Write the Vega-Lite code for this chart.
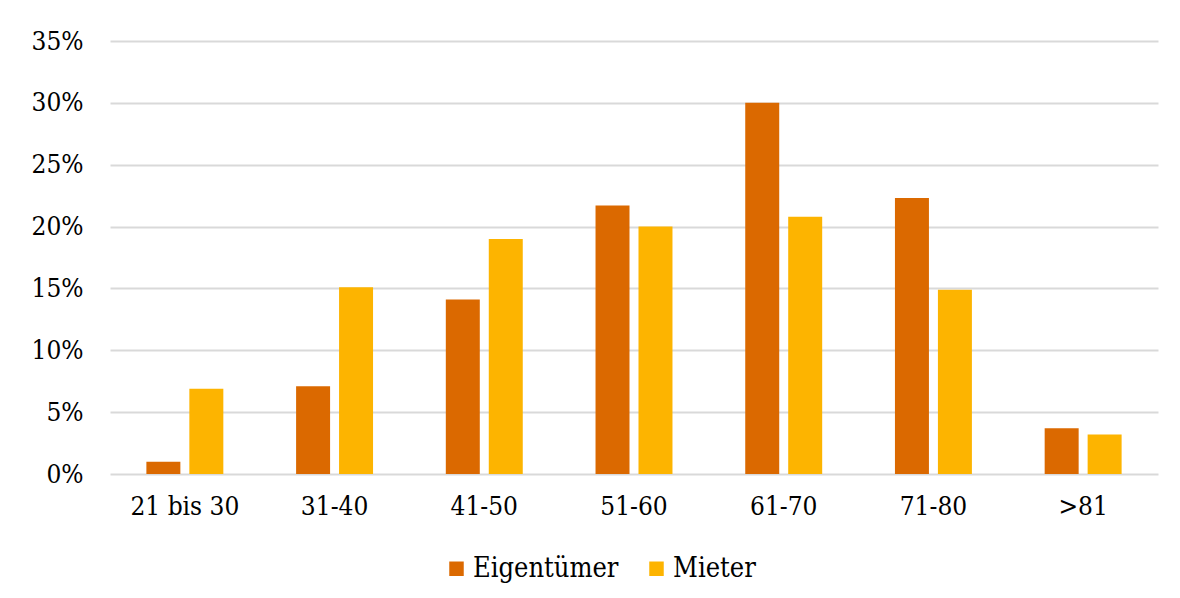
{
  "$schema": "https://vega.github.io/schema/vega-lite/v6.json",
  "autosize": {"type": "none"},
  "width": 1048,
  "height": 433,
  "padding": {"left": 110, "top": 41, "right": 22, "bottom": 124},
  "background": "#ffffff",
  "config": {
    "view": {"stroke": null},
    "font": "DejaVu Serif Condensed, Liberation Serif"
  },
  "data": {
    "values": [
      {"Alter": "21 bis 30", "Gruppe": "Eigentümer", "Anteil": 0.010},
      {"Alter": "21 bis 30", "Gruppe": "Mieter", "Anteil": 0.069},
      {"Alter": "31-40", "Gruppe": "Eigentümer", "Anteil": 0.071},
      {"Alter": "31-40", "Gruppe": "Mieter", "Anteil": 0.151},
      {"Alter": "41-50", "Gruppe": "Eigentümer", "Anteil": 0.141},
      {"Alter": "41-50", "Gruppe": "Mieter", "Anteil": 0.190},
      {"Alter": "51-60", "Gruppe": "Eigentümer", "Anteil": 0.217},
      {"Alter": "51-60", "Gruppe": "Mieter", "Anteil": 0.200},
      {"Alter": "61-70", "Gruppe": "Eigentümer", "Anteil": 0.300},
      {"Alter": "61-70", "Gruppe": "Mieter", "Anteil": 0.208},
      {"Alter": "71-80", "Gruppe": "Eigentümer", "Anteil": 0.223},
      {"Alter": "71-80", "Gruppe": "Mieter", "Anteil": 0.149},
      {"Alter": ">81", "Gruppe": "Eigentümer", "Anteil": 0.037},
      {"Alter": ">81", "Gruppe": "Mieter", "Anteil": 0.032}
    ]
  },
  "mark": {"type": "bar"},
  "encoding": {
    "x": {
      "field": "Alter",
      "type": "nominal",
      "sort": null,
      "scale": {"paddingInner": 0.486, "paddingOuter": 0.243},
      "axis": {
        "title": null,
        "labelAngle": 0,
        "labelFont": "DejaVu Serif Condensed, Liberation Serif",
        "labelFontSize": 26,
        "labelColor": "#000000",
        "labelPadding": 19,
        "ticks": false,
        "domain": false,
        "grid": false
      }
    },
    "xOffset": {
      "field": "Gruppe",
      "type": "nominal",
      "sort": ["Eigentümer", "Mieter"],
      "scale": {"paddingInner": 0.209, "paddingOuter": 0}
    },
    "y": {
      "field": "Anteil",
      "type": "quantitative",
      "scale": {"domain": [0, 0.35], "nice": false},
      "axis": {
        "title": null,
        "values": [0, 0.05, 0.1, 0.15, 0.2, 0.25, 0.3, 0.35],
        "format": ".0%",
        "labelFont": "DejaVu Serif Condensed, Liberation Serif",
        "labelFontSize": 26,
        "labelColor": "#000000",
        "labelPadding": 27,
        "ticks": false,
        "domain": false,
        "grid": true,
        "gridColor": "#d9d9d9",
        "gridWidth": 2
      }
    },
    "color": {
      "field": "Gruppe",
      "type": "nominal",
      "sort": ["Eigentümer", "Mieter"],
      "scale": {"domain": ["Eigentümer", "Mieter"], "range": ["#db6900", "#fdb400"]},
      "legend": {
        "title": null,
        "orient": "none",
        "direction": "horizontal",
        "legendX": 333,
        "legendY": 514,
        "padding": 0,
        "symbolType": "square",
        "symbolSize": 210,
        "symbolStrokeWidth": 0,
        "labelFont": "DejaVu Serif Condensed, Liberation Serif",
        "labelFontSize": 27,
        "labelColor": "#000000",
        "labelOffset": 3,
        "columnPadding": 24
      }
    }
  }
}
